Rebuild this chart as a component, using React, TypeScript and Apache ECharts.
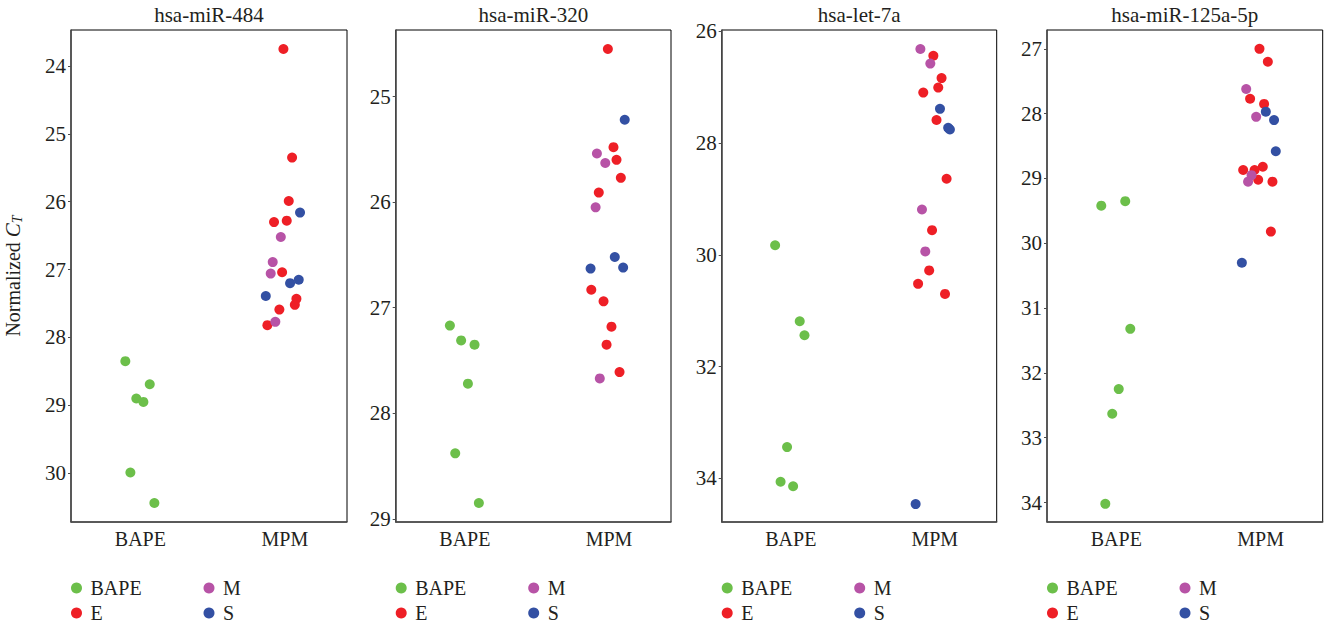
import { useEffect, useRef } from 'react';
import * as echarts from 'echarts';

const panelTitles = ['hsa-miR-484', 'hsa-miR-320', 'hsa-let-7a', 'hsa-miR-125a-5p'];
const categories = ['BAPE', 'MPM'];
const groupNames = ['BAPE', 'E', 'M', 'S'];
const groupColors = ['#6cbf4a', '#ee1f26', '#b753a6', '#3350a3'];
const legendRows = [['BAPE', 'M'], ['E', 'S']];

// [jittered category position, normalized CT]
const miR484_BAPE = [[0.896, 28.35], [1.065, 28.69], [0.972, 28.9], [1.021, 28.95], [0.931, 29.99], [1.097, 30.44]];
const miR484_E = [[1.99, 23.75], [2.05, 25.35], [2.027, 25.99], [1.925, 26.3], [2.013, 26.28], [1.981, 27.04], [2.08, 27.43], [2.069, 27.52], [1.962, 27.59], [1.879, 27.82]];
const miR484_M = [[1.972, 26.52], [1.916, 26.89], [1.902, 27.06], [1.934, 27.77]];
const miR484_S = [[2.105, 26.16], [2.036, 27.2], [2.096, 27.15], [1.868, 27.39]];

const miR320_BAPE = [[0.896, 27.17], [0.974, 27.31], [1.067, 27.35], [1.021, 27.72], [0.933, 28.38], [1.097, 28.85]];
const miR320_E = [[1.992, 24.55], [2.031, 25.48], [2.052, 25.6], [2.082, 25.77], [1.929, 25.91], [1.877, 26.83], [1.962, 26.94], [2.017, 27.18], [1.983, 27.35], [2.073, 27.61]];
const miR320_M = [[1.916, 25.54], [1.974, 25.63], [1.907, 26.05], [1.936, 27.67]];
const miR320_S = [[2.109, 25.22], [2.04, 26.52], [1.872, 26.63], [2.098, 26.62]];

const let7a_BAPE = [[0.891, 29.83], [1.062, 31.19], [1.095, 31.44], [0.974, 33.44], [0.929, 34.06], [1.016, 34.14]];
const let7a_E = [[1.99, 26.44], [2.047, 26.84], [2.024, 27.01], [1.92, 27.1], [2.012, 27.59], [2.082, 28.64], [1.981, 29.56], [1.961, 30.28], [1.884, 30.52], [2.071, 30.7]];
const let7a_M = [[1.9, 26.32], [1.969, 26.58], [1.911, 29.19], [1.934, 29.94]];
const let7a_S = [[2.036, 27.39], [2.093, 27.73], [2.105, 27.76], [1.867, 34.46]];

const miR125a_BAPE = [[0.896, 29.42], [1.062, 29.35], [1.097, 31.32], [1.017, 32.25], [0.972, 32.63], [0.924, 34.02]];
const miR125a_E = [[1.992, 27.0], [2.05, 27.2], [1.927, 27.77], [2.024, 27.85], [2.015, 28.82], [1.879, 28.87], [1.958, 28.87], [1.983, 29.02], [2.082, 29.05], [2.071, 29.82]];
const miR125a_M = [[1.9, 27.62], [1.969, 28.05], [1.937, 28.95], [1.913, 29.05]];
const miR125a_S = [[2.036, 27.97], [2.093, 28.1], [2.105, 28.58], [1.87, 30.3]];

const panelData = [
  [miR484_BAPE, miR484_E, miR484_M, miR484_S],
  [miR320_BAPE, miR320_E, miR320_M, miR320_S],
  [let7a_BAPE, let7a_E, let7a_M, let7a_S],
  [miR125a_BAPE, miR125a_E, miR125a_M, miR125a_S],
];

const yMin = [23.47, 24.37, 25.98, 26.71];
const yMax = [30.72, 29.03, 34.78, 34.3];
const yTicks = [
  [24, 25, 26, 27, 28, 29, 30],
  [25, 26, 27, 28, 29],
  [26, 28, 30, 32, 34],
  [27, 28, 29, 30, 31, 32, 33, 34],
];
const xMin = 0.52;
const xMax = 2.43;

const FONT = 'Liberation Serif';
const TEXT = '#231f20';
const AXIS = '#4d4d4d';
const gridLefts = [71, 395.7, 721.7, 1047];
const gridWidths = [276, 275.3, 275, 275.7];
const gridTop = 30;
const gridHeight = 492;
const legendTops = [578, 603];

export default function App() {
  const ref = useRef<HTMLDivElement>(null);
  useEffect(() => {
    if (!ref.current) return;
    const chart = echarts.init(ref.current, null, { renderer: 'svg' });
    const grid = gridLefts.map((l, i) => ({
      left: l,
      top: gridTop,
      width: gridWidths[i],
      height: gridHeight,
      show: true,
      borderColor: '#000',
      borderWidth: 1,
      backgroundColor: 'transparent',
    }));
    const xAxis = gridLefts.map((_, i) => ({
      type: 'value',
      gridIndex: i,
      min: xMin,
      max: xMax,
      splitLine: { show: false },
      axisTick: { show: false },
      axisLine: { show: true, onZero: false, lineStyle: { color: AXIS, width: 1.5 } },
      axisLabel: {
        customValues: [1, 2],
        formatter: (v: number) => categories[Math.round(v) - 1] ?? '',
        fontFamily: FONT,
        fontSize: 20,
        color: TEXT,
        margin: 7,
      },
    }));
    const yAxis = gridLefts.map((_, i) => ({
      type: 'value',
      gridIndex: i,
      inverse: true,
      min: yMin[i],
      max: yMax[i],
      splitLine: { show: false },
      axisLine: { show: true, onZero: false, lineStyle: { color: AXIS, width: 1.5 } },
      axisTick: { show: true, length: 3, customValues: yTicks[i], lineStyle: { color: AXIS } },
      axisLabel: {
        customValues: yTicks[i],
        fontFamily: FONT,
        fontSize: 21,
        color: TEXT,
        margin: 5,
      },
      ...(i === 0
        ? {
            name: '{n|Normalized }{c|C}{t|T}',
            nameLocation: 'middle',
            nameRotate: 90,
            nameGap: 47,
            nameTextStyle: {
              fontFamily: FONT,
              fontSize: 20,
              color: TEXT,
              rich: {
                n: { fontFamily: FONT, fontSize: 20, color: TEXT, lineHeight: 22 },
                c: { fontFamily: FONT, fontSize: 21, color: TEXT, fontStyle: 'italic', lineHeight: 22 },
                t: { fontFamily: FONT, fontSize: 14, color: TEXT, fontStyle: 'italic', lineHeight: 12, verticalAlign: 'bottom' },
              },
            },
          }
        : {}),
    }));
    const series: any[] = [];
    panelData.forEach((groups, p) => {
      groups.forEach((pts, g) => {
        series.push({
          type: 'scatter',
          name: groupNames[g],
          xAxisIndex: p,
          yAxisIndex: p,
          data: pts,
          symbol: 'circle',
          symbolSize: 10,
          itemStyle: { color: groupColors[g], opacity: 1 },
          emphasis: { disabled: true },
        });
      });
    });
    const legend: any[] = [];
    gridLefts.forEach((l) => {
      legendRows.forEach((row, r) => {
        legend.push({
          orient: 'horizontal',
          left: l,
          top: legendTops[r],
          itemWidth: 18,
          itemHeight: 11,
          itemGap: 13,
          icon: 'circle',
          selectedMode: false,
          padding: 0,
          data: row,
          textStyle: { fontFamily: FONT, fontSize: 20, color: TEXT, width: 100, lineHeight: 16 },
        });
      });
    });
    const graphic = panelTitles.map((t, i) => ({
      type: 'text',
      x: gridLefts[i] + gridWidths[i] / 2,
      y: 15,
      style: {
        text: t,
        fontFamily: FONT,
        fontSize: 21,
        fill: TEXT,
        textAlign: 'center',
        textVerticalAlign: 'middle',
        align: 'center',
        verticalAlign: 'middle',
      },
    }));
    chart.setOption({
      animation: false,
      backgroundColor: '#fff',
      textStyle: { fontFamily: FONT },
      grid,
      xAxis,
      yAxis,
      series,
      legend,
      graphic,
    } as any);
    return () => chart.dispose();
  }, []);
  return (
    <div
      ref={ref}
      style={{ position: 'absolute', left: 0, top: 0, width: 1324, height: 625 }}
    />
  );
}
